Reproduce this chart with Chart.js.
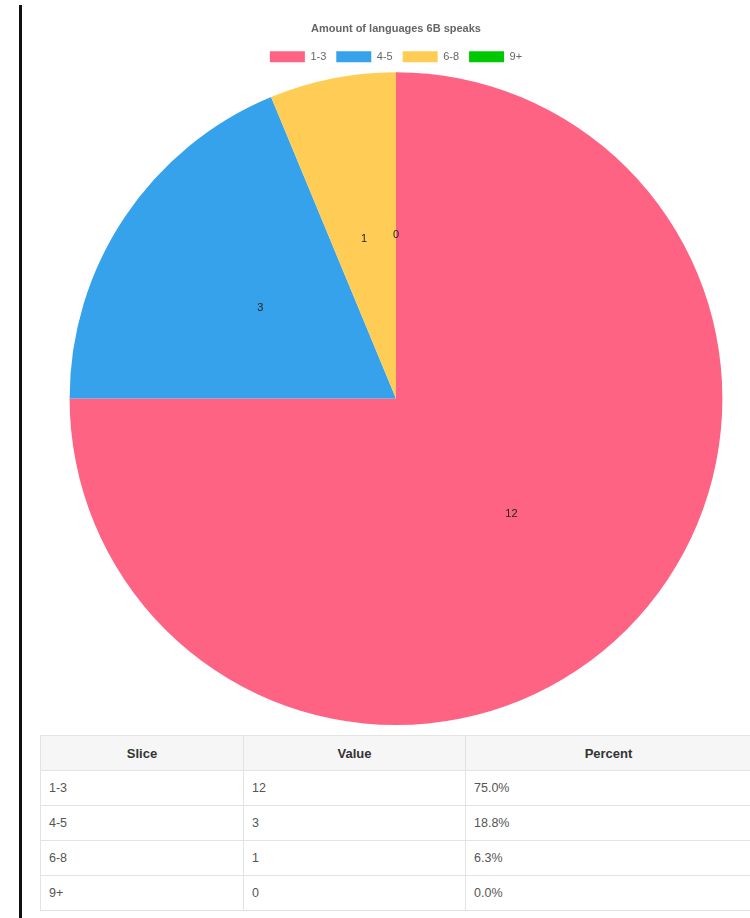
<!DOCTYPE html>
<html>
<head>
<meta charset="utf-8">
<script src="https://cdn.jsdelivr.net/npm/chart.js@4/dist/chart.umd.min.js"></script>
<style>
  html, body { margin:0; padding:0; background:#fff; width:750px; height:918px; overflow:hidden; font-family:"Liberation Sans", Arial, Helvetica, sans-serif; }
  #vline { position:absolute; left:19px; top:5px; width:3px; height:913px; background:#111; }
  #wrap { position:absolute; left:42px; top:12px; width:708px; height:713px; }
  table { position:absolute; left:40px; top:735px; width:712px; border-collapse:collapse; font-size:12.5px; color:#555; }
  th, td { border:1px solid #e3e3e3; height:34px; padding:0 8px; }
  th { background:#f6f6f6; color:#333; font-weight:bold; text-align:center; font-size:13px; }
  td { text-align:left; }
</style>
</head>
<body>
<div id="vline"></div>
<div id="wrap"><canvas id="c"></canvas></div>
<table id="tbl">
  <thead><tr><th style="width:186px">Slice</th><th style="width:205px">Value</th><th>Percent</th></tr></thead>
  <tbody></tbody>
</table>
<script>
const titleText = "Amount of languages 6B speaks";
const categories = ["1-3", "4-5", "6-8", "9+"];
const values = [12, 3, 1, 0];
const colors = ["rgb(255,99,132)", "rgb(54,162,235)", "rgb(255,205,86)", "rgb(0,200,0)"];

const valueLabels = {
  id: "valueLabels",
  afterDatasetsDraw(chart) {
    const ctx = chart.ctx;
    const meta = chart.getDatasetMeta(0);
    ctx.save();
    ctx.font = "11px 'Liberation Sans', Arial, sans-serif";
    ctx.fillStyle = "#222";
    ctx.textAlign = "center";
    ctx.textBaseline = "middle";
    meta.data.forEach((arc, i) => {
      const p = arc.tooltipPosition();
      ctx.fillText(String(chart.data.datasets[0].data[i]), p.x, p.y);
    });
    ctx.restore();
  }
};

new Chart(document.getElementById("c"), {
  type: "pie",
  data: {
    labels: categories,
    datasets: [{ data: values, backgroundColor: colors, borderWidth: 0 }]
  },
  options: {
    responsive: true,
    maintainAspectRatio: false,
    animation: false,
    layout: { padding: 0 },
    plugins: {
      title: { display: true, text: titleText, color: "#666",
        font: { size: 11, weight: "bold", family: "'Liberation Sans', Arial, sans-serif" },
        padding: { top: 10, bottom: 6 } },
      legend: { position: "top",
        labels: { boxWidth: 35, boxHeight: 11, color: "#666", padding: 10,
          font: { size: 11, family: "'Liberation Sans', Arial, sans-serif" } } },
      tooltip: { enabled: false }
    }
  },
  plugins: [valueLabels]
});

const total = values.reduce((a, b) => a + b, 0);
const tbody = document.querySelector("#tbl tbody");
categories.forEach((c, i) => {
  const tr = document.createElement("tr");
  [c, String(values[i]), (values[i] / total * 100).toFixed(1) + "%"].forEach(t => {
    const td = document.createElement("td"); td.textContent = t; tr.appendChild(td);
  });
  tbody.appendChild(tr);
});
</script>
</body>
</html>
